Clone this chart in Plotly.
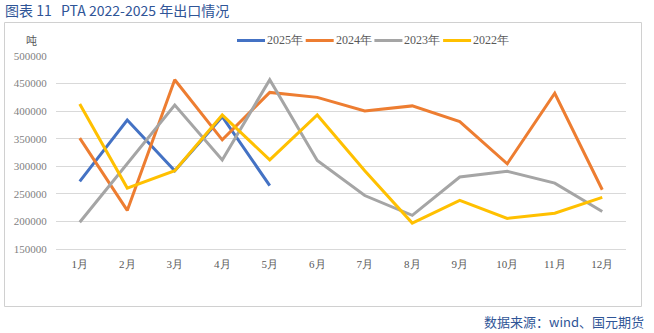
import plotly.graph_objects as go

# Monthly PTA exports (tonnes)
months = ["1月", "2月", "3月", "4月", "5月", "6月", "7月", "8月", "9月", "10月", "11月", "12月"]
series_names = ["2025年", "2024年", "2023年", "2022年"]
exports_2025 = [272500, 384000, 292000, 390000, 265000]
exports_2024 = [351000, 220000, 457000, 348000, 434000, 425000, 400500, 409500, 381000, 304500, 432500, 257500]
exports_2023 = [198500, 305000, 411000, 311500, 457000, 310500, 247000, 211000, 280500, 291000, 269500, 218000]
exports_2022 = [413000, 260500, 292000, 393000, 311500, 393000, 292000, 197000, 238000, 205500, 215000, 243500]
y_ticks = [150000, 200000, 250000, 300000, 350000, 400000, 450000, 500000]

colors = ["#4472C4", "#ED7D31", "#A5A5A5", "#FFC000"]
serif = "Times New Roman, Liberation Serif, serif"

W, H = 654, 333
L, R, T, B = 56, 28, 56, 84


def px_x(px):
    return (px - L) / (W - L - R)


def px_y(py):
    return 1 - (py - T) / (H - T - B)


fig = go.Figure()
for name, vals, col in zip(series_names, [exports_2025, exports_2024, exports_2023, exports_2022], colors):
    fig.add_trace(go.Scatter(
        x=months[:len(vals)], y=vals, name=name, mode="lines",
        line=dict(color=col, width=3), showlegend=False,
    ))

fig.update_layout(
    width=W, height=H,
    margin=dict(l=L, r=R, t=T, b=B),
    paper_bgcolor="white", plot_bgcolor="white",
    xaxis=dict(
        type="category", categoryorder="array", categoryarray=months,
        range=[-0.5, 11.5], showgrid=False, zeroline=False,
        showline=True, linecolor="#D9D9D9", linewidth=1,
        ticks="outside", ticklen=5, tickcolor="rgba(0,0,0,0)",
        tickfont=dict(family=serif, size=11, color="#595959"),
    ),
    yaxis=dict(
        range=[150000, 500000], tickvals=y_ticks,
        ticktext=[str(v) for v in y_ticks],
        showgrid=True, gridcolor="#D9D9D9", gridwidth=1, zeroline=False,
        ticks="outside", ticklen=6, tickcolor="rgba(0,0,0,0)",
        tickfont=dict(family=serif, size=11, color="#7F7F7F"),
    ),
)

# legend row: short colour bar followed by the series name
leg_x0, leg_pitch, leg_y = 237, 68.7, 40.5
for i, (name, col) in enumerate(zip(series_names, colors)):
    x0 = leg_x0 + i * leg_pitch
    fig.add_shape(type="line", xref="paper", yref="paper",
                  x0=px_x(x0), x1=px_x(x0 + 28), y0=px_y(leg_y), y1=px_y(leg_y),
                  line=dict(color=col, width=3))
    fig.add_annotation(text=name, xref="paper", yref="paper",
                       x=px_x(x0 + 30), y=px_y(leg_y), xanchor="left", yanchor="middle",
                       showarrow=False, xshift=-2,
                       font=dict(family=serif, size=12, color="#595959"))

# outer frame
fig.add_shape(type="rect", xref="paper", yref="paper",
              x0=px_x(4.5), x1=px_x(641.5), y0=px_y(306.5), y1=px_y(22.5),
              line=dict(color="#D0D0D0", width=1), fillcolor="rgba(0,0,0,0)", layer="below")

fig.add_annotation(text="图表 11   PTA 2022-2025 年出口情况", xref="paper", yref="paper",
                   x=px_x(3), y=px_y(10), xanchor="left", yanchor="middle", showarrow=False,
                   font=dict(family="Noto Sans CJK SC", size=14, color="#2F5597"))
fig.add_annotation(text="吨", xref="paper", yref="paper",
                   x=px_x(31), y=px_y(40), xanchor="center", yanchor="middle", showarrow=False,
                   font=dict(family="Noto Sans CJK SC", size=11, color="#595959"))
fig.add_annotation(text="数据来源：wind、国元期货", xref="paper", yref="paper",
                   x=px_x(646), y=px_y(321), xanchor="right", yanchor="middle", showarrow=False,
                   font=dict(family="Noto Sans CJK SC", size=13, color="#2F5597"))

fig.write_html("out.html")
